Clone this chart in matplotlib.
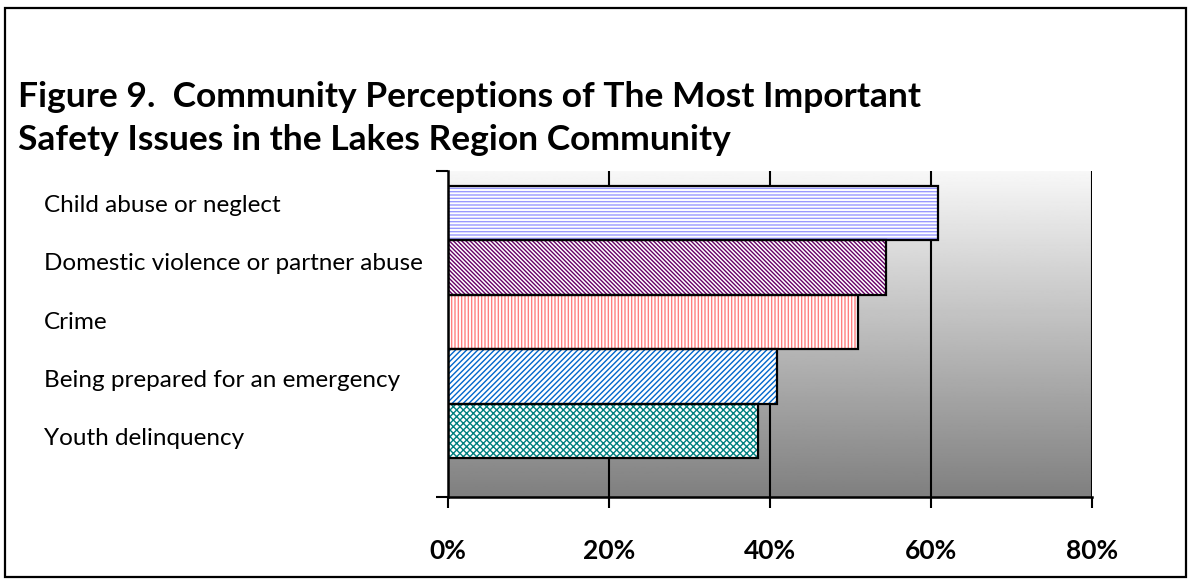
import numpy as np
import matplotlib
matplotlib.use("Agg")
import matplotlib.pyplot as plt
import matplotlib.transforms as mtransforms
from matplotlib.patches import Rectangle

# Data (top to bottom as drawn)
categories = ["Child abuse or neglect", "Domestic violence or partner abuse", "Crime",
              "Being prepared for an emergency", "Youth delinquency"]
values = [60.9, 54.4, 50.9, 40.9, 38.5]
hatch_colors = ["#9999ff", "#660066", "#ff8080", "#0066cc", "#008080"]
hatches = ["-----", "\\" * 8, "|" * 5, "/" * 6, "xxxxx"]
xticks = [0, 20, 40, 60, 80]

plt.rcParams["font.family"] = ["Lato", "DejaVu Sans"]
plt.rcParams["hatch.linewidth"] = 1.0

fig = plt.figure(figsize=(11.91, 5.82), dpi=100)
ax = fig.add_axes([448 / 1191, 85 / 582, 644 / 1191, 326 / 582])

n = len(categories)
ypos = np.arange(n)[::-1]
ylim = (-1.217, 4.776)

# gradient background
grad = np.linspace(0.97, 0.50, 256).reshape(-1, 1)
ax.imshow(grad, extent=[0, 80, ylim[0], ylim[1]], aspect="auto", cmap="gray",
          vmin=0, vmax=1, zorder=0, origin="upper")

for x in xticks[1:]:
    ax.axvline(x, color="black", lw=1.5, zorder=1)

for y, v, c, h in zip(ypos, values, hatch_colors, hatches):
    ax.barh(y, v, height=1.0, color="white", edgecolor=c, hatch=h, lw=0, zorder=2)
    ax.barh(y, v, height=1.0, fill=False, edgecolor="black", lw=1.6, zorder=3)

ax.set_xlim(0, 80)
ax.set_ylim(*ylim)
ax.set_xticks(xticks)
ax.set_xticklabels([f"{t}%" for t in xticks], fontsize=19, fontweight="bold")
ax.tick_params(axis="x", length=8, width=1.5, pad=22)

ax.set_yticks(list(ylim))
ax.set_yticklabels([])
ax.tick_params(axis="y", length=9, width=1.5)

# category labels, a little more spread out than the bars
trans = mtransforms.blended_transform_factory(fig.transFigure, ax.transData)
for y, name in zip(ypos, categories):
    ax.text(44 / 1191, 2 + (y - 2) * 1.07, name, transform=trans, fontsize=17.5,
            ha="left", va="center", clip_on=False)

for s in ["top", "right"]:
    ax.spines[s].set_visible(False)
for s in ["left", "bottom"]:
    ax.spines[s].set_linewidth(1.8)
    ax.spines[s].set_zorder(4)

fig.text(18 / 1191, 1 - 97 / 582, "Figure 9.  Community Perceptions of The Most Important",
         fontsize=25.5, fontweight="bold", va="center", ha="left")
fig.text(18 / 1191, 1 - 140 / 582, "Safety Issues in the Lakes Region Community",
         fontsize=25.5, fontweight="bold", va="center", ha="left")

fig.patches.append(Rectangle((5 / 1191, 5 / 582), 1181 / 1191, 569 / 582,
                             transform=fig.transFigure, fill=False,
                             edgecolor="black", lw=1.6))

fig.savefig("out.png", dpi=100)
